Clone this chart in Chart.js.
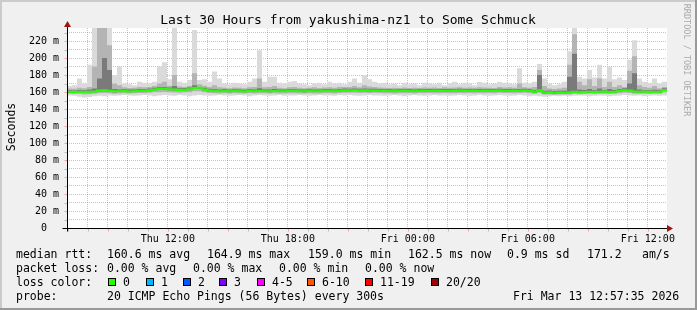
<!DOCTYPE html>
<html>
<head>
<meta charset="utf-8">
<script src="https://cdn.jsdelivr.net/npm/chart.js@4.4.1/dist/chart.umd.min.js"></script>
<style>
    html, body { margin: 0; padding: 0; background: #f0f0f0; }
    #wrap { width: 697px; height: 310px; }
</style>
</head>
<body>
<div id="wrap"><canvas id="smokeChart" width="697" height="310"></canvas></div>
<script>
const TITLE = "Last 30 Hours from yakushima-nz1 to Some Schmuck";
const START_HOUR = 6 + 57 / 60 + 35 / 3600;   // Thu 06:57:35, hours since Thu 00:00
const END_HOUR = START_HOUR + 30;
const STEP_HOURS = 0.25;

// median rtt (ms), one value every 15 minutes
const medianRtt = [
    160.2,160.0,160.4,160.1,160.3,160.6,161.8,162.2,161.5,160.8,
    160.9,161.2,160.7,161.0,161.6,161.2,162.0,163.0,163.4,163.8,
    163.2,162.9,162.4,162.6,163.2,164.6,164.9,163.0,161.8,161.5,
    161.0,161.4,160.8,161.2,161.0,160.7,161.1,160.9,161.3,161.0,
    160.8,161.2,161.0,160.9,161.3,161.1,161.0,160.8,161.2,161.0,
    160.9,161.3,161.1,161.0,161.6,162.0,161.9,162.1,161.8,162.0,
    161.7,161.9,161.5,161.2,161.4,161.0,161.3,161.1,161.4,161.0,
    161.5,161.2,161.6,161.3,161.1,161.6,161.4,161.2,161.7,161.3,
    161.5,161.2,161.6,161.3,161.5,161.2,161.8,161.4,161.6,161.3,
    161.5,161.8,161.4,160.2,162.0,159.3,159.6,159.0,159.4,159.2,
    159.5,160.3,159.8,160.1,160.4,159.9,160.2,160.5,160.0,160.3,
    161.5,162.2,161.8,160.6,160.2,160.5,160.1,160.4,160.3,162.5,
    162.5
];

// smoke: fastest / slowest ping of each round
const pingMin = [
    156.0,155.5,154.5,153.5,154.0,155.0,155.5,155.0,156.0,155.5,
    156.0,156.5,156.0,155.5,156.0,156.5,156.0,155.0,156.0,156.5,
    156.0,155.5,156.5,156.0,155.0,156.0,156.5,156.0,155.5,156.0,
    156.5,156.0,155.5,156.0,156.5,156.0,155.0,156.0,156.5,156.0,
    155.5,156.0,156.5,155.5,156.0,156.0,156.5,156.0,155.5,156.0,
    156.5,156.0,156.0,155.5,156.5,156.0,156.5,156.0,155.5,156.0,
    156.5,156.0,156.0,155.5,156.0,156.5,156.0,155.0,156.0,156.5,
    156.0,155.5,156.0,156.5,156.0,156.0,155.5,156.0,156.5,156.0,
    155.5,156.0,156.5,156.0,155.5,156.0,156.5,156.0,155.5,156.0,
    156.5,156.0,155.0,155.5,155.0,154.5,155.0,155.5,155.0,155.5,
    155.0,155.5,156.0,155.5,155.0,155.5,156.0,155.5,155.0,155.5,
    156.0,156.5,156.0,155.5,156.0,155.0,155.5,156.0,155.5,156.0,
    156.0
];
const pingMax = [
    167,168,176,170,192,240,240,240,240,180,
    190,170,169,168,172,171,170,172,190,195,
    175,240,172,171,174,233,174,175,172,184,
    176,170,169,171,170,169,172,176,209,172,
    178,178,171,170,172,173,170,169,168,170,
    171,169,172,170,171,169,172,176,171,180,
    175,172,170,171,169,170,168,171,169,170,
    168,171,170,169,171,168,170,172,169,171,
    170,168,172,171,169,170,172,171,170,169,
    188,171,170,172,193,176,170,168,169,172,
    208,240,178,176,186,177,192,176,190,175,
    177,174,198,221,176,172,171,176,170,172,
    168
];

// smoke: middle bands
const pingLo2 = [
    157.8,157.6,157.9,157.2,157.5,158.0,158.6,158.8,158.5,158.0,
    158.3,158.5,158.1,158.4,158.8,158.6,159.0,159.6,159.8,160.0,
    159.8,159.5,159.2,159.4,159.8,160.8,161.0,159.8,158.9,158.6,
    158.3,158.6,158.2,158.5,158.3,158.1,158.4,158.2,158.6,158.4,
    158.2,158.5,158.3,158.2,158.6,158.4,158.3,158.1,158.5,158.3,
    158.2,158.6,158.4,158.3,158.8,159.1,159.0,159.2,158.9,159.1,
    158.8,159.0,158.7,158.4,158.6,158.3,158.5,158.4,158.6,158.3,
    158.7,158.5,158.8,158.6,158.4,158.8,158.6,158.5,158.9,158.6,
    158.7,158.5,158.8,158.6,158.7,158.5,159.0,158.7,158.8,158.6,
    158.7,159.0,158.6,157.8,159.0,157.0,157.2,156.8,157.1,157.0,
    157.2,157.8,157.5,157.7,157.9,157.6,157.8,158.0,157.7,157.9,
    158.6,159.2,158.9,158.0,157.8,158.0,157.7,157.9,157.8,159.5,
    159.5
];
const pingHi2 = [
    164.0,163.8,165.0,164.5,166.0,190.0,240.0,240.0,215.0,170.0,
    168.0,165.5,164.8,165.0,166.0,165.5,166.0,167.0,170.0,172.0,
    167.5,180.0,166.5,166.0,167.0,182.0,169.0,167.5,166.0,168.0,
    165.5,165.0,164.5,165.2,165.0,164.5,165.5,166.0,176.0,165.5,
    166.0,167.0,165.0,164.5,165.5,166.0,165.0,164.5,165.0,165.5,
    164.8,165.2,165.5,165.0,165.8,166.0,165.8,167.0,165.5,168.0,
    166.5,165.8,165.2,165.0,164.8,165.0,164.6,165.2,164.8,165.0,
    164.8,165.3,165.0,165.2,164.8,165.5,165.0,165.3,165.6,165.0,
    165.3,164.9,165.6,165.2,165.0,164.8,165.8,165.3,165.5,165.0,
    170.0,165.6,165.0,166.0,186.0,167.0,164.0,163.5,164.0,165.0,
    192.0,228.0,172.0,168.0,175.0,167.0,176.0,166.0,172.0,166.0,
    168.0,166.0,185.0,202.0,168.0,166.0,165.0,167.0,164.5,166.0,
    165.5
];

// smoke: inner (darkest) band
const pingLo3 = [
    159.2,159.0,159.4,159.1,159.3,159.6,160.6,161.0,160.5,159.8,
    159.9,160.2,159.7,160.0,160.6,160.2,161.0,162.0,162.4,162.8,
    162.2,161.9,161.4,161.6,162.2,163.6,163.9,162.0,160.8,160.5,
    160.0,160.4,159.8,160.2,160.0,159.7,160.1,159.9,160.3,160.0,
    159.8,160.2,160.0,159.9,160.3,160.1,160.0,159.8,160.2,160.0,
    159.9,160.3,160.1,160.0,160.6,161.0,160.9,161.1,160.8,161.0,
    160.7,160.9,160.5,160.2,160.4,160.0,160.3,160.1,160.4,160.0,
    160.5,160.2,160.6,160.3,160.1,160.6,160.4,160.2,160.7,160.3,
    160.5,160.2,160.6,160.3,160.5,160.2,160.8,160.4,160.6,160.3,
    160.5,160.8,160.4,159.0,160.5,158.3,158.6,158.0,158.4,158.2,
    158.5,159.2,158.8,159.1,159.4,158.9,159.2,159.5,159.0,159.3,
    160.5,161.2,160.8,159.6,159.2,159.5,159.1,159.4,159.3,161.5,
    161.5
];
const pingHi3 = [
    162.0,161.8,162.5,162.0,162.8,164.0,176.0,200.0,186.0,163.5,
    163.0,163.2,162.8,163.0,163.6,163.2,164.0,165.0,165.5,166.0,
    165.2,167.0,164.5,164.8,165.2,168.0,166.0,165.0,163.8,163.5,
    163.0,163.4,162.8,163.2,163.0,162.7,163.1,162.9,164.5,163.0,
    162.8,163.5,163.0,162.9,163.3,163.1,163.0,162.8,163.2,163.0,
    162.9,163.3,163.1,163.0,163.6,164.0,163.9,164.1,163.8,164.0,
    163.7,163.9,163.5,163.2,163.4,163.0,163.3,163.1,163.4,163.0,
    163.5,163.2,163.6,163.3,163.1,163.6,163.4,163.2,163.7,163.3,
    163.5,163.2,163.6,163.3,163.5,163.2,163.8,163.4,163.6,163.3,
    163.5,163.8,163.4,162.5,180.0,161.5,161.8,161.2,161.6,161.5,
    178.0,205.0,163.0,162.3,163.5,162.0,164.0,162.5,163.5,162.3,
    163.5,164.5,170.0,182.0,162.8,162.5,162.2,162.6,162.3,164.5,
    164.5
];

const yLabelValues = [0, 20, 40, 60, 80, 100, 120, 140, 160, 180, 200, 220];
const xLabelHours = [12, 18, 24, 30, 36];
const xLabels = ["Thu 12:00", "Thu 18:00", "Fri 00:00", "Fri 06:00", "Fri 12:00"];

const rttStats = ["160.6 ms avg", "164.9 ms max", "159.0 ms min", "162.5 ms now", "0.9 ms sd", "171.2", "am/s"];
const lossStats = ["0.00 % avg", "0.00 % max", "0.00 % min", "0.00 % now"];
const lossLabels = ["0", "1", "2", "3", "4-5", "6-10", "11-19", "20/20"];
const lossColors = ["#26ff00", "#00b8ff", "#0059ff", "#7e00ff", "#ff00ff", "#ff5500", "#ff0000", "#a10000"];
const probeText = "20 ICMP Echo Pings (56 Bytes) every 300s";
const stampText = "Fri Mar 13 12:57:35 2026";

const MONO = '"DejaVu Sans Mono", "Liberation Mono", monospace';
const GRID_MINOR = "rgba(150,150,150,0.55)";
const GRID_MAJOR = "rgba(255,0,0,0.32)";

function toPoints(values) {
    return values.map((v, i) => ({ x: START_HOUR + i * STEP_HOURS, y: v }));
}

function band(values, fill, color, order) {
    return {
        data: toPoints(values),
        stepped: true,
        borderWidth: 0,
        pointRadius: 0,
        backgroundColor: color,
        fill: fill,
        order: order
    };
}

const rrdDecor = {
    id: "rrdDecor",
    beforeDraw(chart) {
        const { ctx, chartArea: a, width, height } = chart;
        ctx.save();
        ctx.fillStyle = "#f0f0f0";
        ctx.fillRect(0, 0, width, height);
        ctx.fillStyle = "#cbcbcb";
        ctx.fillRect(0, 0, width, 2);
        ctx.fillRect(0, 0, 2, height);
        ctx.fillStyle = "#999999";
        ctx.fillRect(0, height - 2, width, 2);
        ctx.fillRect(width - 2, 0, 2, height);
        ctx.fillStyle = "#ffffff";
        ctx.fillRect(a.left, a.top, a.right - a.left, a.bottom - a.top);
        ctx.restore();
    },
    afterDraw(chart) {
        const { ctx, chartArea: a } = chart;
        const xs = chart.scales.x;
        const ys = chart.scales.y;
        const x0 = Math.round(a.left) + 0.5;
        const y0 = Math.round(a.bottom) + 0.5;
        ctx.save();

        // small ticks outside the plot
        ctx.lineWidth = 1;
        for (let h = 7; h <= 36; h++) {
            const px = Math.round(xs.getPixelForValue(h)) + 0.5;
            ctx.strokeStyle = h % 3 === 0 ? GRID_MAJOR : GRID_MINOR;
            ctx.beginPath();
            ctx.moveTo(px, y0);
            ctx.lineTo(px, y0 + 3);
            ctx.stroke();
        }
        for (let v = 10; v <= 230; v += 10) {
            const py = Math.round(ys.getPixelForValue(v)) + 0.5;
            ctx.strokeStyle = v % 20 === 0 ? GRID_MAJOR : GRID_MINOR;
            ctx.beginPath();
            ctx.moveTo(x0 - 3, py);
            ctx.lineTo(x0, py);
            ctx.stroke();
        }

        // axes
        ctx.strokeStyle = "#000";
        ctx.beginPath();
        ctx.moveTo(x0 - 5, y0);
        ctx.lineTo(a.right + 1, y0);
        ctx.moveTo(x0, y0 + 3);
        ctx.lineTo(x0, a.top - 2);
        ctx.stroke();

        // arrows
        ctx.fillStyle = "#9b1515";
        ctx.beginPath();
        ctx.moveTo(x0, a.top - 7);
        ctx.lineTo(x0 - 3.5, a.top - 1);
        ctx.lineTo(x0 + 3.5, a.top - 1);
        ctx.closePath();
        ctx.fill();
        ctx.beginPath();
        ctx.moveTo(a.right + 6, y0);
        ctx.lineTo(a.right, y0 - 3.5);
        ctx.lineTo(a.right, y0 + 3.5);
        ctx.closePath();
        ctx.fill();

        // tick labels
        ctx.fillStyle = "#000";
        ctx.font = "10px " + MONO;
        ctx.textAlign = "right";
        ctx.textBaseline = "middle";
        yLabelValues.forEach(v => {
            const label = v === 0 ? "0  " : v + " m";
            ctx.fillText(label, 59, ys.getPixelForValue(v) + 0.5);
        });
        ctx.textAlign = "center";
        ctx.textBaseline = "alphabetic";
        xLabelHours.forEach((h, i) => {
            ctx.fillText(xLabels[i], xs.getPixelForValue(h), 242);
        });

        // title
        ctx.font = "13px " + MONO;
        ctx.fillText(TITLE, 348, 23.5);

        // axis title
        ctx.font = "11.5px " + MONO;
        ctx.save();
        ctx.translate(15, 127);
        ctx.rotate(-Math.PI / 2);
        ctx.fillText("Seconds", 0, 0);
        ctx.restore();

        // watermark
        ctx.save();
        ctx.font = "8.5px " + MONO;
        ctx.fillStyle = "#aaaaaa";
        ctx.translate(684, 60);
        ctx.rotate(Math.PI / 2);
        ctx.fillText("RRDTOOL / TOBI OETIKER", 0, 0);
        ctx.restore();

        // legend
        ctx.font = "11.5px " + MONO;
        ctx.textAlign = "left";
        ctx.fillStyle = "#000";
        const rttX = [107, 207, 308, 408, 507, 587, 642];
        ctx.fillText("median rtt:", 16, 257.5);
        rttStats.forEach((s, i) => ctx.fillText(s, rttX[i], 257.5));

        const lossX = [107, 193, 279, 365];
        ctx.fillText("packet loss:", 16, 271.5);
        lossStats.forEach((s, i) => ctx.fillText(s, lossX[i], 271.5));

        const boxX = [108, 146, 183, 219, 257, 307, 365, 431];
        ctx.fillText("loss color:", 16, 285.5);
        lossLabels.forEach((s, i) => {
            ctx.fillStyle = lossColors[i];
            ctx.fillRect(boxX[i], 278, 8, 8);
            ctx.strokeStyle = "#000";
            ctx.strokeRect(boxX[i] + 0.5, 278.5, 7, 7);
            ctx.fillStyle = "#000";
            ctx.fillText(s, boxX[i] + 15, 285.5);
        });

        ctx.fillText("probe:", 16, 299.5);
        ctx.fillText(probeText, 107, 299.5);
        ctx.fillText(stampText, 513, 299.5);
        ctx.restore();
    }
};

function gridAxis(min, max, ticks, isMajor) {
    return {
        type: "linear",
        min: min,
        max: max,
        afterBuildTicks: scale => {
            scale.ticks = ticks.map(v => ({ value: v }));
        },
        ticks: { display: false },
        border: { display: false, dash: [1, 1] },
        grid: {
            drawTicks: false,
            lineWidth: 1,
            color: c => isMajor(c.tick.value) ? GRID_MAJOR : GRID_MINOR
        }
    };
}

function drawChart() {
    const hourTicks = [];
    for (let h = 7; h <= 36; h++) hourTicks.push(h);
    const msTicks = [];
    for (let v = 0; v <= 230; v += 10) msTicks.push(v);

    const ctx = document.getElementById("smokeChart");
    new Chart(ctx, {
        type: "line",
        data: {
            datasets: [
                band(pingMin, false, "rgba(0,0,0,0)", 3),
                band(pingMax, "-1", "#dadada", 3),
                band(pingLo2, false, "rgba(0,0,0,0)", 2),
                band(pingHi2, "-1", "#b4b4b4", 2),
                band(pingLo3, false, "rgba(0,0,0,0)", 1),
                band(pingHi3, "-1", "#7a7a7a", 1),
                {
                    data: toPoints(medianRtt),
                    stepped: true,
                    borderColor: lossColors[0],
                    borderWidth: 2,
                    pointRadius: 0,
                    fill: false,
                    order: 0
                }
            ]
        },
        options: {
            responsive: false,
            animation: false,
            layout: { padding: { left: 67, top: 28, right: 30, bottom: 82 } },
            plugins: {
                legend: { display: false },
                tooltip: { enabled: false },
                title: { display: false }
            },
            scales: {
                x: gridAxis(START_HOUR, END_HOUR, hourTicks, h => h % 3 === 0),
                y: gridAxis(0, 235.3, msTicks, v => v % 20 === 0)
            }
        },
        plugins: [rrdDecor]
    });
}

document.addEventListener("DOMContentLoaded", drawChart);
</script>
</body>
</html>
